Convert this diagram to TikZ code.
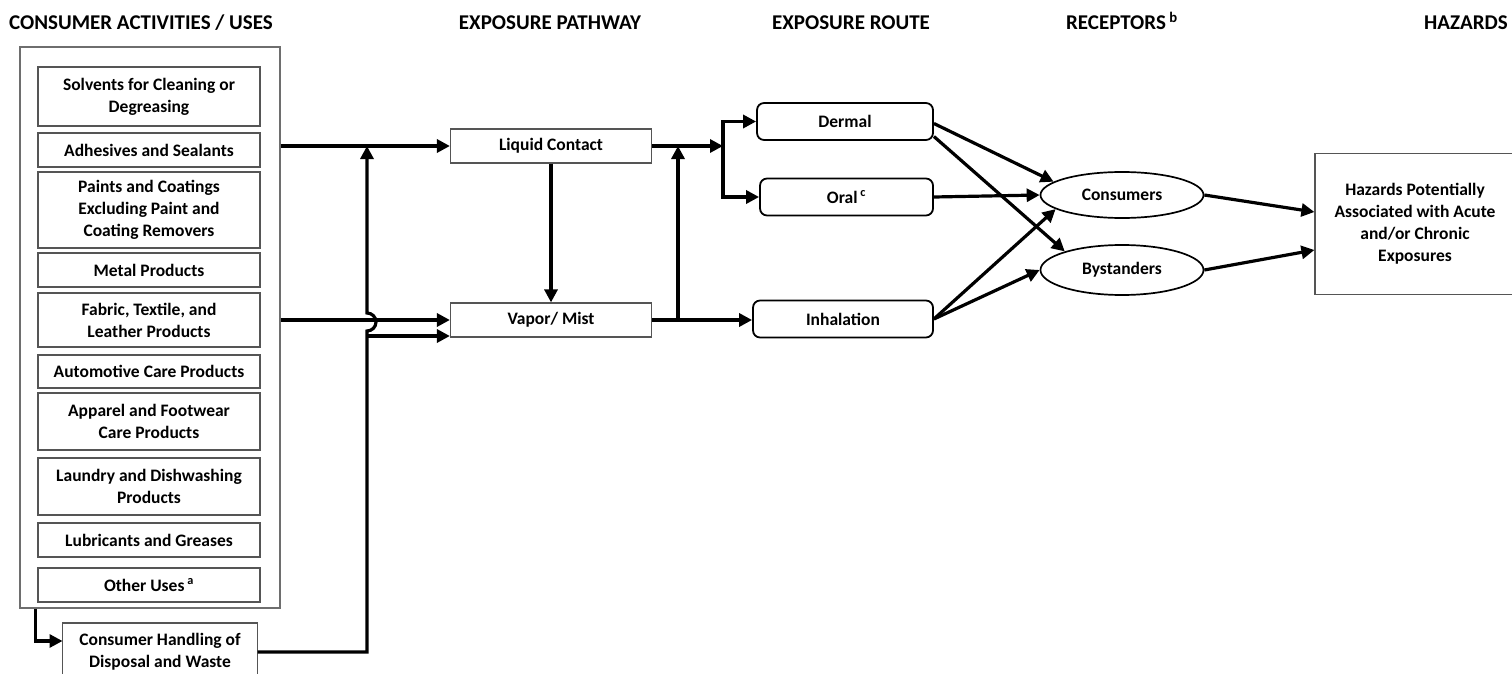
\documentclass[tikz,border=0pt]{standalone}
\usepackage{fontspec}
\setmainfont{Carlito}
\usetikzlibrary{positioning,calc,arrows.meta,shapes.geometric}
\definecolor{bgrey}{HTML}{555555}
\definecolor{lgrey}{HTML}{6E6E6E}

\begin{document}
\begin{tikzpicture}[x=1pt, y=-1pt, font=\bfseries\fontsize{17.5}{22}\selectfont,
  head/.style={font=\bfseries\fontsize{21}{24}\selectfont, inner sep=0pt, anchor=base},
  outerbox/.style={draw=lgrey, line width=1.2pt, minimum width=260pt, minimum height=561pt},
  usebox/.style={draw=bgrey, line width=1.4pt, align=center, minimum width=222pt, inner sep=2pt,
                 outer sep=0pt},
  pathbox/.style={draw=bgrey, line width=1.2pt, align=center, minimum width=201pt, minimum height=34pt},
  routebox/.style={draw=black, line width=1.8pt, rounded corners=2.5mm, align=center,
                   minimum width=176pt, minimum height=37pt},
  recep/.style={ellipse, draw=black, line width=1.7pt, minimum width=163pt, minimum height=46pt},
  hazbox/.style={draw=bgrey, line width=1.2pt, align=center, minimum width=200pt, minimum height=141pt},
  arr/.style={-{Triangle[length=13pt,width=13pt]}, line width=3.2pt}]
  \useasboundingbox (0,0) rectangle (1512,674);

  % column headings
  \node[head] (h1) at (141,30) {CONSUMER ACTIVITIES / USES};
  \node[head] (h2) at (550,30) {EXPOSURE PATHWAY};
  \node[head] (h3) at (851,30) {EXPOSURE ROUTE};
  \node[head] (h4) at (1122,30) {RECEPTORS\,\textsuperscript{b}};
  \node[head] (h5) at (1466,30) {HAZARDS};

  % consumer uses
  \node[outerbox] (uses) at (150,327.5) {};
  \node[usebox, minimum height=59pt] (solv) at (149,96.5) {Solvents for Cleaning or\\Degreasing};
  \node[usebox, minimum height=34pt, below=7pt of solv] (adh) {Adhesives and Sealants};
  \node[usebox, minimum height=76pt, below=5pt of adh] (paint) {Paints and Coatings\\Excluding Paint and\\Coating Removers};
  \node[usebox, minimum height=34pt, below=5pt of paint] (metal) {Metal Products};
  \node[usebox, minimum height=54pt, below=6pt of metal] (fab) {Fabric, Textile, and\\Leather Products};
  \node[usebox, minimum height=33pt, below=8pt of fab] (auto) {Automotive Care Products};
  \node[usebox, minimum height=57pt, below=5pt of auto] (app) {Apparel and Footwear\\Care Products};
  \node[usebox, minimum height=57pt, below=8pt of app] (laun) {Laundry and Dishwashing\\Products};
  \node[usebox, minimum height=34pt, below=8pt of laun] (lub) {Lubricants and Greases};
  \node[usebox, minimum height=34pt, below=11pt of lub] (oth) {Other Uses\,\textsuperscript{a}};
  \node[usebox, minimum width=195pt, minimum height=58pt] (disp) at (160,652) {Consumer Handling of\\Disposal and Waste};

  % pathways, routes, receptors, hazards
  \node[pathbox] (liq) at (551,146) {Liquid Contact};
  \node[pathbox] (vap) at (551,320) {Vapor/ Mist};
  \node[routebox] (der) at (845,121.5) {Dermal};
  \node[routebox, minimum width=173pt] (oral) at (846.5,197) {Oral\,\textsuperscript{c}};
  \node[routebox, minimum width=180pt] (inh) at (843,319) {Inhalation};
  \node[recep] (cons) at (1122,195) {Consumers};
  \node[recep, minimum height=50pt] (byst) at (1122,270) {Bystanders};
  \node[hazbox] (haz) at (1415,224) {Hazards Potentially\\Associated with Acute\\and/or Chronic\\Exposures};

  % junctions
  \coordinate (ja) at (367,146);
  \coordinate (jlo) at (367,331);
  \coordinate (jc) at (367,336);
  \coordinate (br) at (723,146);
  \coordinate (jd) at (678,146);

  % connectors
  \draw[arr] (uses.east |- liq) -- (liq.west);
  \draw[arr] (uses.east |- vap) -- (vap.west);
  \draw[arr] ([xshift=16pt]uses.south west) |- ([yshift=11pt]disp.west);
  \draw[arr] (disp.east) -| (jlo) arc[start angle=90, end angle=-90, radius=9] -- (ja);
  \draw[arr] (jc) -- (jc -| vap.west);
  \draw[arr] (liq) -- (vap);
  \draw[arr] (liq.east) -- (br);
  \draw[arr] (br) |- (der.west);
  \draw[arr] (br) |- (oral.west);
  \draw[arr] (vap.east) -- (vap.east -| inh.west);
  \draw[arr] (vap.east -| jd) -- (jd);
  \draw[arr] ([yshift=-2pt]der.east) -- (cons.169);
  \draw[arr] ([yshift=-15pt]der.east) -- (byst.162);
  \draw[arr] (oral.east) -- (cons.west);
  \draw[arr] (inh.east) -- (cons.192);
  \draw[arr] (inh.east) -- (byst.180);
  \draw[arr] (cons.east) -- ([yshift=12pt]haz.west);
  \draw[arr] (byst.east) -- ([yshift=-26pt]haz.west);
\end{tikzpicture}
\end{document}
